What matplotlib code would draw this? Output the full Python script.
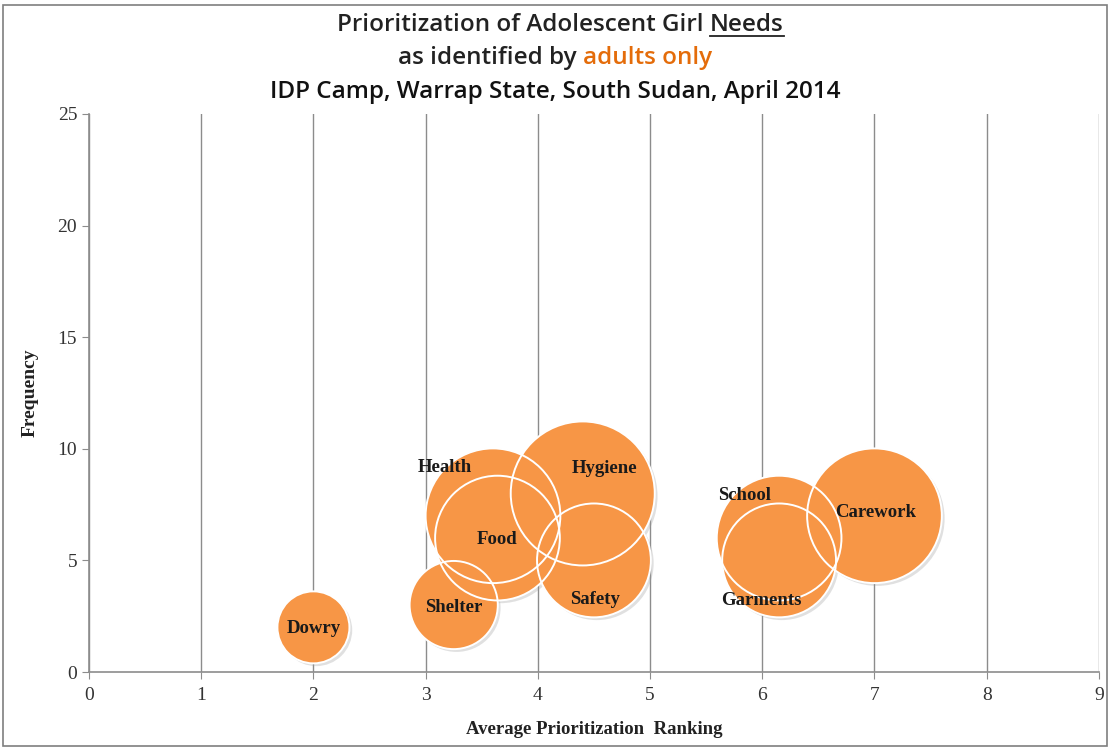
import matplotlib.pyplot as plt
import matplotlib.transforms as mtransforms
from matplotlib.patches import Rectangle

# bubble data
needs = ["Dowry", "Shelter", "Health", "Food", "Hygiene", "Safety", "School", "Garments", "Carework"]
ranking = [2.0, 3.25, 3.6, 3.64, 4.4, 4.5, 6.15, 6.15, 7.0]
frequency = [2, 3, 7, 6, 8, 5, 6, 5, 7]
bubble_size = [2, 3, 7, 6, 8, 5, 6, 5, 7]

# label offsets in points (where excel put them)
label_offsets = [(0, -1), (0, -2), (-35, 35), (0, -1), (16, 18), (1, -28), (-25, 31), (-13, -29), (1, 2)]

orange = "#F79646"
serif = "Liberation Serif"

fig = plt.figure(figsize=(11.1, 7.48), dpi=100)
ax = fig.add_axes([0.0802, 0.1016, 0.9098, 0.746])

s = [b * 1344 for b in bubble_size]

# soft shadow, then fills, then white outlines on top of everything
shadow = mtransforms.offset_copy(ax.transData, fig=fig, x=2, y=-2, units="points")
ax.scatter(ranking, frequency, s=s, color="#9a9a9a", alpha=0.3, linewidths=0,
           transform=shadow, zorder=2)
ax.scatter(ranking, frequency, s=s, color=orange, linewidths=0, zorder=3)
ax.scatter(ranking, frequency, s=s, facecolors="none", edgecolors="white",
           linewidths=1.4, zorder=4)

for name, x, y, off in zip(needs, ranking, frequency, label_offsets):
    ax.annotate(name, (x, y), xytext=off, textcoords="offset points",
                ha="center", va="center", fontsize=13.5, fontweight="bold",
                family=serif, color="#1a1a1a", zorder=5)

ax.set_xlim(0, 9)
ax.set_ylim(0, 25)
ax.set_xticks(range(0, 10))
ax.set_yticks(range(0, 26, 5))
ax.grid(axis="x", color="#8c8c8c", linewidth=1)
ax.set_axisbelow(True)

for side in ["top", "right"]:
    ax.spines[side].set_visible(False)
for side in ["left", "bottom"]:
    ax.spines[side].set_color("#8c8c8c")
    ax.spines[side].set_linewidth(1.2)

ax.tick_params(axis="both", colors="#8c8c8c", length=5, labelsize=14,
               labelcolor="#333333")
ax.tick_params(axis="x", pad=6)
for lab in ax.get_xticklabels() + ax.get_yticklabels():
    lab.set_family(serif)

ax.set_xlabel("Average Prioritization  Ranking", fontsize=13.5, fontweight="bold",
              family=serif, color="#222222", labelpad=12)
ax.set_ylabel("Frequency", fontsize=14, fontweight="bold", family=serif,
              color="#222222", labelpad=14)

# title, three lines, one word underlined and one phrase in orange
tsize = 17.5
y1, y2, y3 = 0.967, 0.923, 0.877
tfont = dict(family="Open Sans", fontsize=tsize, fontweight="semibold", ha="center", va="center")
t1a = fig.text(0.505, y1, "Prioritization of Adolescent Girl Needs", color="#222222", **tfont)
fig.canvas.draw()
r = fig.canvas.get_renderer()
bb = t1a.get_window_extent(r)
t1a.set_text("Prioritization of Adolescent Girl ")
t1a.set_ha("left")
t1a.set_x(bb.x0 / fig.bbox.width)
bb1 = t1a.get_window_extent(r)
needs_word = fig.text(bb1.x1 / fig.bbox.width, y1, "Needs", color="#222222",
                      family="Open Sans", fontsize=tsize, fontweight="semibold",
                      ha="left", va="center")
bbn = needs_word.get_window_extent(r)
fig.add_artist(plt.Line2D([bbn.x0 / fig.bbox.width, bbn.x1 / fig.bbox.width],
                          [(bbn.y0 + 1) / fig.bbox.height] * 2, color="#222222", lw=1.3))

t2 = fig.text(0.5, y2, "as identified by adults only", color="#222222", **tfont)
bb2 = t2.get_window_extent(r)
t2.set_text("as identified by ")
t2.set_ha("left")
t2.set_x(bb2.x0 / fig.bbox.width)
bb2a = t2.get_window_extent(r)
fig.text(bb2a.x1 / fig.bbox.width, y2, "adults only", color="#E46C0A",
         family="Open Sans", fontsize=tsize, fontweight="semibold", ha="left", va="center")

fig.text(0.5, y3, "IDP Camp, Warrap State, South Sudan, April 2014", color="#111111", **tfont)

fig.add_artist(Rectangle((0.003, 0.003), 0.994, 0.990, transform=fig.transFigure,
                         fill=False, edgecolor="#7f7f7f", linewidth=1.2))

fig.savefig("out.png", dpi=100)
